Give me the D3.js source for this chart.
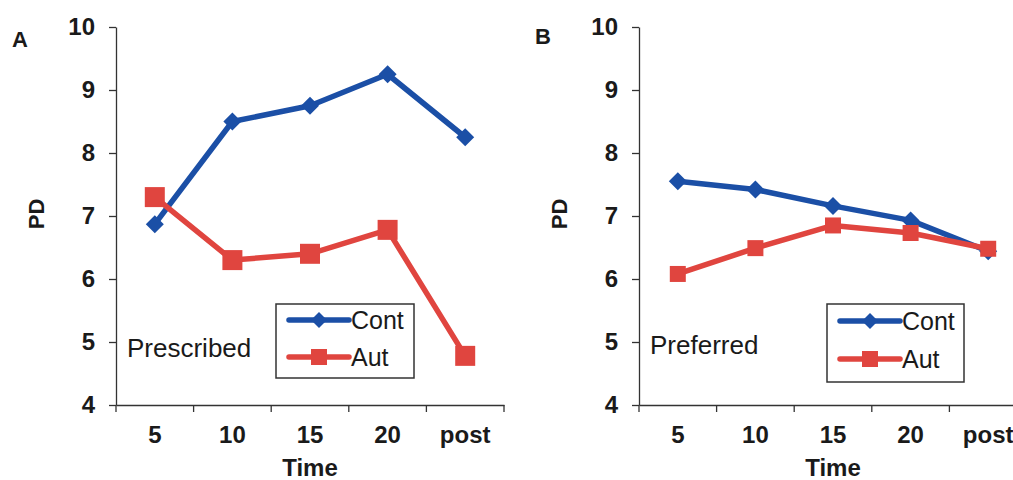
<!DOCTYPE html>
<html>
<head>
<meta charset="utf-8">
<script src="https://cdn.jsdelivr.net/npm/d3@7"></script>
<style>
  body { margin: 0; background: #fff; }
  text { font-family: "Liberation Sans", Arial, sans-serif; fill: #1a1a1a; }
</style>
</head>
<body>
<svg width="1013" height="480"></svg>
<script>
// data
var times = ["5", "10", "15", "20", "post"];
var yTicks = [4, 5, 6, 7, 8, 9, 10];

var contA = [6.87, 8.5, 8.75, 9.25, 8.25];
var autA  = [7.3, 6.3, 6.4, 6.78, 4.78];
var contB = [7.55, 7.42, 7.16, 6.93, 6.44];
var autB  = [6.08, 6.49, 6.85, 6.73, 6.48];

var blue = "#1b4fa6", red = "#e0453f";
var svg = d3.select("svg");

function panel(o) {
  var g = svg.append("g");
  var x = d3.scaleBand().domain(times).range([o.x0, o.x1]);
  var y = d3.scaleLinear().domain([4, 10]).range([405, 27]);

  // y axis
  var ya = g.append("g").attr("transform", "translate(" + o.x0 + ",0)")
    .call(d3.axisLeft(y).tickValues(yTicks).tickFormat(d3.format("d"))
      .tickSize(7).tickPadding(14).tickSizeOuter(0));
  ya.selectAll("text").style("font-size", "24px").style("font-weight", "bold");
  ya.selectAll("line, path").attr("stroke", "#333").attr("stroke-width", 1.3);

  // x axis: labels at centres, ticks on band edges
  var xa = g.append("g").attr("transform", "translate(0,405)")
    .call(d3.axisBottom(x).tickSize(0).tickPadding(21).tickSizeOuter(0));
  xa.selectAll("text").style("font-size", "24px").style("font-weight", "bold");
  xa.select("path").attr("stroke", "#333").attr("stroke-width", 1.3);
  var edges = times.map(function(t) { return x(t); }).concat([x("post") + x.bandwidth()]);
  xa.selectAll("line.edge").data(edges).enter().append("line")
    .attr("class", "edge")
    .attr("x1", function(d) { return d; }).attr("x2", function(d) { return d; })
    .attr("y1", 0).attr("y2", 7)
    .attr("stroke", "#333").attr("stroke-width", 1.3);

  g.append("text").attr("x", o.x0 + 194).attr("y", 476)
    .attr("text-anchor", "middle").style("font-size", "24px").style("font-weight", "bold").text("Time");
  g.append("text").attr("transform", "translate(" + (o.x0 - 72) + ",214) rotate(-90)")
    .attr("text-anchor", "middle").style("font-size", "22px").style("font-weight", "bold").text("PD");
  g.append("text").attr("x", o.x0 - 104).attr("y", o.letterY)
    .style("font-size", "22px").style("font-weight", "bold").text(o.letter);
  g.append("text").attr("x", o.x0 + 11).attr("y", o.labelY)
    .style("font-size", "26px").text(o.label);

  var cx = function(d, i) { return x(times[i]) + x.bandwidth() / 2; };
  var line = d3.line().x(cx).y(function(d) { return y(d); });

  [[o.cont, blue, "diamond"], [o.aut, red, "square"]].forEach(function(s) {
    g.append("path").datum(s[0]).attr("d", line)
      .attr("fill", "none").attr("stroke", s[1]).attr("stroke-width", 5.5).attr("stroke-linejoin", "round");
    g.selectAll(null).data(s[0]).enter().append("path")
      .attr("transform", function(d, i) { return "translate(" + cx(d, i) + "," + y(d) + ")"; })
      .attr("d", function() {
        if (s[2] == "diamond") { var h = o.dia; return "M0," + (-h) + "L" + h + ",0L0," + h + "L" + (-h) + ",0Z"; }
        var q = o.sq; return "M" + (-q) + "," + (-q) + "h" + 2 * q + "v" + 2 * q + "h" + (-2 * q) + "Z";
      })
      .attr("fill", s[1]);
  });

  // legend
  var L = g.append("g");
  L.append("rect").attr("x", o.lx).attr("y", 304).attr("width", o.lw).attr("height", o.lh)
    .attr("fill", "#fff").attr("stroke", "#333").attr("stroke-width", 1.5);
  [["Cont", blue, "diamond", o.ly[0]], ["Aut", red, "square", o.ly[1]]].forEach(function(r) {
    var lx1 = o.lx + 13, lx2 = o.lx + 73, mx = (lx1 + lx2) / 2;
    L.append("line").attr("x1", lx1).attr("x2", lx2).attr("y1", r[3]).attr("y2", r[3])
      .attr("stroke", r[1]).attr("stroke-width", 5.5).attr("stroke-linecap", "round");
    if (r[2] == "diamond")
      L.append("path").attr("d", "M" + mx + "," + (r[3] - 8) + "l8,8l-8,8l-8,-8Z").attr("fill", r[1]);
    else
      L.append("rect").attr("x", mx - 8).attr("y", r[3] - 8).attr("width", 16).attr("height", 16).attr("fill", r[1]);
    L.append("text").attr("x", lx2 + 2).attr("y", r[3] + 9).style("font-size", "25px").text(r[0]);
  });
}

panel({ x0: 116, x1: 504, cont: contA, aut: autA, letter: "A", letterY: 47, label: "Prescribed", labelY: 357,
        lx: 276, lw: 138, lh: 74, ly: [320, 357], dia: 9, sq: 10 });
panel({ x0: 639, x1: 1027, cont: contB, aut: autB, letter: "B", letterY: 44, label: "Preferred", labelY: 354,
        lx: 827, lw: 137, lh: 78, ly: [321, 359], dia: 9, sq: 8 });
</script>
</body>
</html>
